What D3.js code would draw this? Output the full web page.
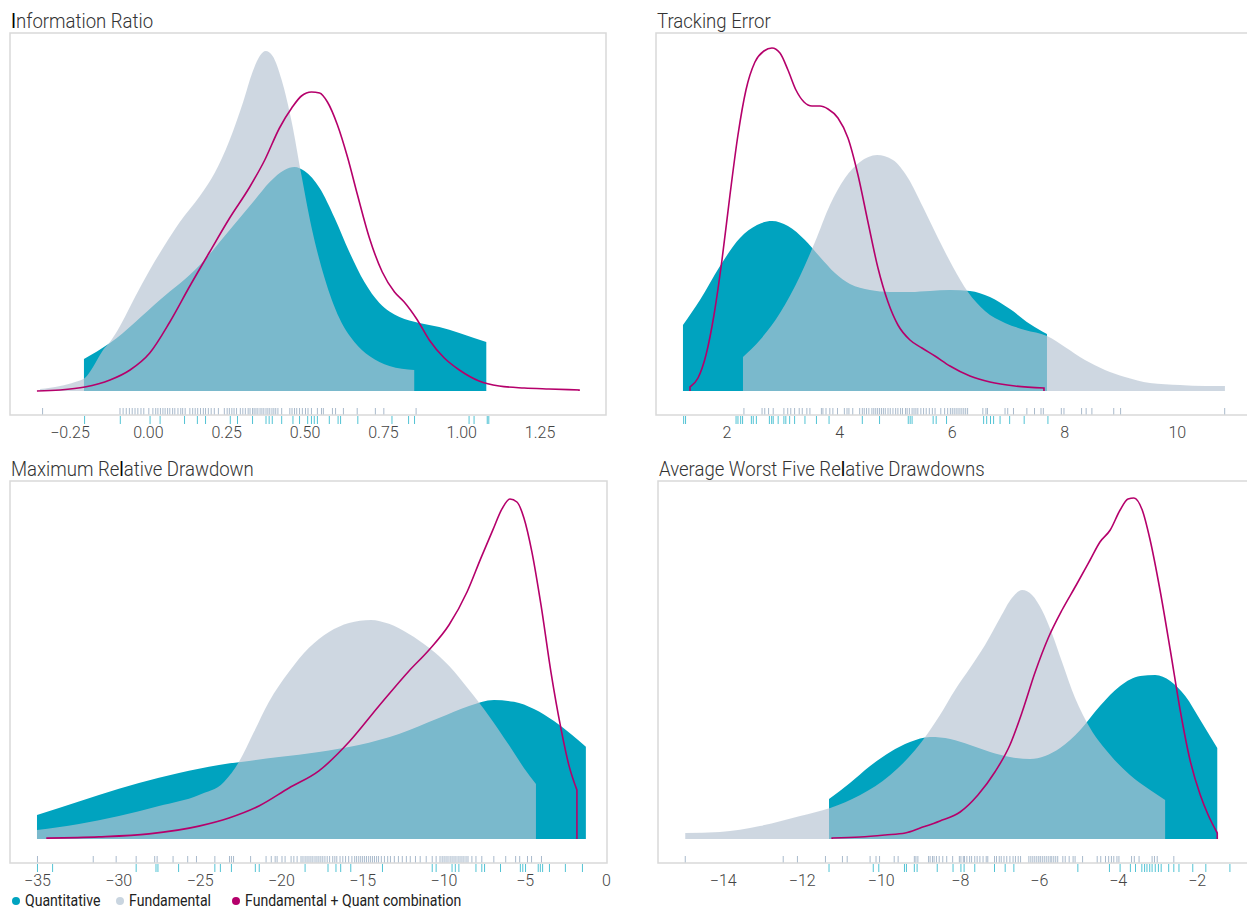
<!DOCTYPE html>
<html>
<head>
<meta charset="utf-8">
<script src="https://cdn.jsdelivr.net/npm/d3@7"></script>
<style>
  body { margin: 0; background: #fff; }
  text { font-family: Roboto, "Noto Sans", sans-serif; }
</style>
</head>
<body>
<svg id="chart" width="1247" height="909"></svg>
<script>
// ---- Information Ratio: [value, density] ----
const irQuant = [[-0.204,0.32],[-0.121,0.48],[0.038,0.91],[0.166,1.26],[0.261,1.61],[0.341,1.91],[0.389,2.09],[0.436,2.21],[0.468,2.24],[0.500,2.20],[0.548,2.03],[0.596,1.73],[0.643,1.39],[0.691,1.09],[0.739,0.88],[0.803,0.74],[0.866,0.68],[0.930,0.64],[0.994,0.58],[1.041,0.53],[1.080,0.49]];
const irFund = [[-0.344,0.02],[-0.280,0.05],[-0.232,0.09],[-0.201,0.13],[-0.175,0.24],[-0.143,0.41],[-0.121,0.49],[-0.096,0.61],[-0.067,0.78],[-0.041,0.94],[0.006,1.21],[0.054,1.46],[0.102,1.69],[0.166,1.95],[0.213,2.18],[0.261,2.51],[0.303,2.88],[0.334,3.19],[0.357,3.35],[0.376,3.40],[0.398,3.35],[0.427,3.11],[0.459,2.69],[0.490,2.16],[0.522,1.64],[0.564,1.13],[0.611,0.73],[0.659,0.49],[0.707,0.35],[0.771,0.25],[0.850,0.21]];
const irCombo = [[-0.354,0.00],[-0.280,0.01],[-0.201,0.04],[-0.121,0.11],[-0.057,0.21],[0.006,0.38],[0.070,0.69],[0.134,1.05],[0.197,1.39],[0.261,1.73],[0.325,2.04],[0.373,2.31],[0.420,2.63],[0.459,2.83],[0.490,2.95],[0.522,2.99],[0.548,2.98],[0.573,2.89],[0.605,2.66],[0.637,2.34],[0.669,1.96],[0.707,1.53],[0.748,1.19],[0.787,0.99],[0.818,0.89],[0.860,0.71],[0.898,0.51],[0.946,0.33],[0.994,0.21],[1.057,0.10],[1.121,0.05],[1.201,0.03],[1.280,0.02],[1.376,0.01]];
const irQuantRug = [-0.202,-0.088,0.007,0.039,0.117,0.158,0.184,0.263,0.286,0.334,0.377,0.387,0.397,0.427,0.463,0.484,0.510,0.522,0.531,0.541,0.579,0.607,0.615,0.670,0.779,0.832,0.851,1.025,1.041,1.083,1.088];
const irFundRug = [-0.336,-0.089,-0.079,-0.069,-0.059,-0.050,-0.041,-0.032,-0.022,-0.013,0.003,0.016,0.025,0.032,0.040,0.048,0.055,0.063,0.070,0.079,0.086,0.096,0.105,0.111,0.119,0.134,0.143,0.151,0.159,0.168,0.177,0.184,0.193,0.202,0.212,0.225,0.244,0.253,0.260,0.268,0.275,0.283,0.295,0.303,0.311,0.320,0.326,0.334,0.339,0.345,0.351,0.358,0.364,0.370,0.377,0.383,0.389,0.396,0.402,0.408,0.415,0.427,0.453,0.460,0.468,0.475,0.484,0.493,0.503,0.511,0.522,0.541,0.554,0.560,0.589,0.599,0.624,0.668,0.726,0.753,0.856];
const irTicks = [-0.25, 0, 0.25, 0.5, 0.75, 1, 1.25];

// ---- Tracking Error ----
const teQuant = [[1.227,0.066],[1.529,0.091],[1.885,0.125],[2.240,0.153],[2.542,0.166],[2.808,0.170],[3.092,0.165],[3.394,0.151],[3.661,0.134],[3.927,0.118],[4.194,0.107],[4.549,0.101],[4.904,0.099],[5.259,0.099],[5.615,0.100],[5.970,0.101],[6.325,0.100],[6.680,0.094],[7.036,0.082],[7.391,0.067],[7.693,0.057]];
const teFund = [[2.293,0.034],[2.595,0.051],[2.950,0.078],[3.306,0.115],[3.572,0.149],[3.838,0.186],[4.105,0.213],[4.371,0.229],[4.673,0.236],[4.957,0.231],[5.224,0.213],[5.490,0.184],[5.757,0.153],[6.023,0.124],[6.290,0.099],[6.592,0.080],[6.947,0.068],[7.302,0.061],[7.693,0.055],[8.012,0.044],[8.368,0.031],[8.723,0.021],[9.078,0.014],[9.522,0.008],[10.055,0.006],[10.499,0.005],[10.854,0.005]];
const teCombo = [[1.352,0.004],[1.494,0.013],[1.636,0.036],[1.778,0.076],[1.920,0.131],[2.062,0.196],[2.204,0.256],[2.346,0.301],[2.506,0.329],[2.666,0.340],[2.808,0.343],[2.950,0.338],[3.092,0.321],[3.234,0.301],[3.377,0.289],[3.519,0.285],[3.661,0.285],[3.803,0.282],[3.980,0.273],[4.158,0.253],[4.336,0.216],[4.513,0.169],[4.691,0.123],[4.869,0.089],[5.046,0.066],[5.259,0.051],[5.472,0.043],[5.703,0.035],[5.970,0.025],[6.325,0.015],[6.680,0.009],[7.124,0.005],[7.640,0.003]];
const teQuantRug = [1.239,1.273,2.170,2.204,2.252,2.286,2.442,2.476,2.531,2.762,2.803,2.830,2.918,3.020,3.054,3.122,3.210,3.394,3.598,3.822,4.413,4.719,5.229,5.263,5.297,5.671,5.725,5.909,6.568,6.622,6.690,6.745,6.860,7.030,7.288,7.710];
const teFundRug = [2.31,2.632,2.68,2.748,2.83,3.02,3.088,3.142,3.21,3.292,3.346,3.428,3.482,3.686,3.713,3.768,3.836,3.89,3.972,4.094,4.141,4.175,4.243,4.366,4.413,4.447,4.488,4.529,4.583,4.617,4.651,4.685,4.719,4.753,4.787,4.821,4.869,4.909,4.957,5.005,5.045,5.093,5.127,5.181,5.209,5.249,5.297,5.331,5.365,5.399,5.453,5.501,5.548,5.603,5.657,5.705,5.807,5.875,5.929,5.977,6.011,6.045,6.079,6.113,6.147,6.181,6.215,6.249,6.283,6.554,6.609,6.636,6.948,6.996,7.098,7.336,7.472,7.587,7.628,7.948,7.995,8.308,8.389,8.491,8.879,9.001,10.85];
const teTicks = [2, 4, 6, 8, 10];

// ---- Maximum Relative Drawdown ----
const mdQuant = [[-35.00,0.0080],[-33.65,0.0103],[-31.19,0.0147],[-28.73,0.0187],[-26.27,0.0220],[-23.81,0.0247],[-21.96,0.0260],[-20.12,0.0273],[-17.66,0.0290],[-15.20,0.0313],[-12.74,0.0350],[-10.28,0.0403],[-8.43,0.0443],[-6.89,0.0463],[-5.66,0.0457],[-4.43,0.0433],[-3.20,0.0393],[-2.16,0.0350],[-1.24,0.0307]];
const mdFund = [[-35.00,0.0030],[-32.42,0.0050],[-29.96,0.0077],[-27.50,0.0110],[-25.04,0.0147],[-23.50,0.0190],[-22.58,0.0257],[-21.65,0.0357],[-20.73,0.0457],[-19.50,0.0557],[-18.27,0.0637],[-17.04,0.0690],[-15.81,0.0720],[-14.46,0.0730],[-13.35,0.0717],[-12.12,0.0683],[-10.89,0.0637],[-9.66,0.0577],[-8.43,0.0497],[-7.20,0.0410],[-5.97,0.0313],[-5.05,0.0237],[-4.31,0.0183]];
const mdCombo = [[-34.38,0.0003],[-31.19,0.0007],[-28.11,0.0017],[-25.04,0.0043],[-23.19,0.0070],[-21.35,0.0110],[-19.50,0.0170],[-17.66,0.0227],[-15.81,0.0323],[-13.97,0.0443],[-12.12,0.0560],[-10.89,0.0630],[-9.66,0.0713],[-8.55,0.0823],[-7.69,0.0937],[-6.96,0.1030],[-6.40,0.1100],[-5.91,0.1133],[-5.48,0.1123],[-5.05,0.1070],[-4.56,0.0957],[-4.00,0.0780],[-3.39,0.0557],[-2.78,0.0370],[-2.29,0.0247],[-1.79,0.0163]];
const mdQuantRug = [-34.97,-34.04,-28.90,-27.68,-27.56,-26.29,-24.06,-23.72,-23.04,-21.57,-21.33,-18.51,-17.10,-16.61,-16.32,-15.70,-13.75,-10.69,-10.45,-9.47,-9.27,-9.05,-8.00,-7.64,-7.47,-6.49,-5.27,-5.12,-4.95,-4.17,-4.04,-3.90,-3.48,-2.50,-1.45];
const mdFundRug = [-34.97,-31.54,-30.13,-28.90,-27.76,-27.61,-26.63,-25.73,-25.19,-24.06,-23.16,-23.04,-22.91,-21.86,-20.91,-20.59,-20.35,-20.23,-19.93,-19.74,-19.37,-19.20,-19.00,-18.76,-18.64,-18.51,-18.39,-18.27,-18.15,-18.03,-17.90,-17.78,-17.66,-17.54,-17.42,-17.29,-17.15,-17.00,-16.81,-16.68,-16.56,-16.36,-16.19,-16.02,-15.83,-15.63,-15.46,-15.34,-15.21,-15.09,-14.97,-14.85,-14.73,-14.60,-14.48,-14.36,-14.24,-14.11,-13.99,-13.82,-13.63,-13.43,-13.26,-13.02,-12.77,-12.53,-12.28,-12.04,-11.72,-11.43,-11.06,-10.69,-10.45,-10.21,-10.08,-9.96,-9.84,-9.72,-9.59,-9.47,-9.35,-9.23,-9.10,-8.98,-8.86,-8.74,-8.61,-8.49,-8.25,-8.00,-7.64,-6.90,-6.17,-5.56,-5.31,-4.83,-4.58,-3.97];
const mdTicks = [-35, -30, -25, -20, -15, -10, -5, 0];

// ---- Average Worst Five Relative Drawdowns ----
const awQuant = [[-11.31,0.040],[-10.78,0.056],[-10.27,0.073],[-9.76,0.087],[-9.26,0.097],[-8.75,0.102],[-8.24,0.100],[-7.74,0.094],[-7.23,0.087],[-6.73,0.082],[-6.22,0.080],[-5.84,0.083],[-5.46,0.091],[-4.95,0.109],[-4.45,0.133],[-3.94,0.153],[-3.43,0.163],[-3.05,0.164],[-2.67,0.158],[-2.29,0.143],[-1.91,0.119],[-1.48,0.091]];
const awFund = [[-14.95,0.006],[-14.07,0.007],[-13.06,0.013],[-12.04,0.023],[-11.28,0.031],[-10.52,0.044],[-9.76,0.064],[-9.13,0.089],[-8.50,0.124],[-8.12,0.149],[-7.74,0.171],[-7.36,0.194],[-6.98,0.221],[-6.68,0.241],[-6.42,0.249],[-6.17,0.244],[-5.92,0.229],[-5.66,0.205],[-5.41,0.177],[-5.08,0.141],[-4.70,0.111],[-4.19,0.084],[-3.69,0.064],[-3.18,0.049],[-2.80,0.039]];
const awCombo = [[-11.23,0.001],[-10.52,0.002],[-9.89,0.004],[-9.38,0.006],[-9.00,0.011],[-8.50,0.018],[-7.99,0.027],[-7.54,0.044],[-7.11,0.067],[-6.73,0.094],[-6.42,0.127],[-6.09,0.167],[-5.76,0.201],[-5.41,0.229],[-5.05,0.254],[-4.70,0.279],[-4.45,0.297],[-4.19,0.309],[-3.94,0.329],[-3.74,0.340],[-3.59,0.341],[-3.38,0.329],[-3.18,0.299],[-2.93,0.249],[-2.67,0.189],[-2.42,0.129],[-2.17,0.079],[-1.91,0.044],[-1.71,0.024],[-1.48,0.006]];
const awQuantRug = [-11.31,-10.19,-10.05,-9.40,-9.35,-9.15,-9.08,-8.57,-8.17,-7.97,-7.89,-7.62,-7.12,-6.85,-6.63,-5.01,-4.21,-3.94,-3.68,-3.55,-3.39,-3.32,-3.26,-3.19,-3.13,-3.05,-2.97,-2.90,-2.71,-2.58,-2.45,-2.10,-1.77,-1.16];
const awFundRug = [-14.95,-12.47,-12.11,-11.40,-10.97,-10.85,-10.27,-10.12,-10.03,-9.66,-9.56,-9.15,-9.11,-9.06,-8.79,-8.75,-8.69,-8.65,-8.59,-8.52,-8.43,-8.33,-8.18,-8.01,-7.97,-7.91,-7.88,-7.82,-7.75,-7.70,-7.62,-7.56,-7.49,-7.41,-7.33,-7.29,-7.12,-7.07,-7.00,-6.95,-6.88,-6.81,-6.73,-6.65,-6.59,-6.52,-6.46,-6.25,-6.20,-6.15,-6.10,-6.05,-6.00,-5.96,-5.91,-5.86,-5.81,-5.76,-5.71,-5.67,-5.62,-5.57,-5.52,-5.39,-5.33,-5.23,-5.13,-5.08,-4.89,-4.52,-4.43,-4.31,-4.23,-4.16,-4.10,-4.02,-3.97,-3.65,-3.58,-3.46,-3.13,-3.07,-3.00,-2.58];
const awTicks = [-14, -12, -10, -8, -6, -4, -2];

// ---- Legend ----
const seriesNames = ["Quantitative", "Fundamental", "Fundamental + Quant combination"];

const COLOR_QUANT = "#00a3bf";
const COLOR_FUND = "#b6c4d3";
const COLOR_COMBO = "#b5006b";
const COLOR_QUANT_RUG = "#52c3d4";
const COLOR_FUND_RUG = "#a9bacc";
const TITLE_CONDENSE = 0.885;
const LEGEND_CONDENSE = 0.88;

const svg = d3.select("#chart");

const panels = [
  { id: "ir", title: "Information Ratio", box: [10, 33, 606, 415], domain: [-0.44, 1.462], dmax: 3.58,
    ticks: irTicks, fmt: d3.format(".2f"), quant: irQuant, fund: irFund, combo: irCombo, quantRug: irQuantRug, fundRug: irFundRug },
  { id: "te", title: "Tracking Error", box: [656, 33, 1252, 415], domain: [0.748, 11.335], dmax: 0.358,
    ticks: teTicks, fmt: d3.format("d"), quant: teQuant, fund: teFund, combo: teCombo, quantRug: teQuantRug, fundRug: teFundRug },
  { id: "md", title: "Maximum Relative Drawdown", box: [10, 481, 607, 863], domain: [-36.66, 0.06], dmax: 0.1193,
    ticks: mdTicks, fmt: d3.format("d"), quant: mdQuant, fund: mdFund, combo: mdCombo, quantRug: mdQuantRug, fundRug: mdFundRug },
  { id: "aw", title: "Average Worst Five Relative Drawdowns", box: [658, 481, 1254, 863], domain: [-15.64, -0.55], dmax: 0.358,
    ticks: awTicks, fmt: d3.format("d"), quant: awQuant, fund: awFund, combo: awCombo, quantRug: awQuantRug, fundRug: awFundRug }
];

// Title with the dark "I"/"l" glyphs of the original typeface
function writeTitle(g, str) {
  const t = g.append("text")
    .attr("transform", `scale(${TITLE_CONDENSE},1)`)
    .attr("font-size", 21).attr("font-weight", 300).attr("fill", "#333");
  str.split(/([Il])/).forEach(part => {
    if (!part) return;
    const s = t.append("tspan").text(part);
    if (part === "I" || part === "l") s.attr("fill", "#000").attr("font-weight", 400);
  });
}

panels.forEach(p => {
  const [bx0, by0, bx1, by1] = p.box;
  const base = by1 - 24;
  const x = d3.scaleLinear().domain(p.domain).range([bx0, bx1]);
  const y = d3.scaleLinear().domain([0, p.dmax]).range([base, by0]);

  const g = svg.append("g");

  // title
  writeTitle(g.append("g").attr("transform", `translate(${bx0 + 1},${by0 - 5})`), p.title);

  // clip
  g.append("clipPath").attr("id", "clip-" + p.id)
    .append("rect").attr("x", bx0).attr("y", by0).attr("width", bx1 - bx0).attr("height", by1 - by0);
  const plot = g.append("g").attr("clip-path", `url(#clip-${p.id})`);

  const area = d3.area().curve(d3.curveMonotoneX)
    .x(d => x(d[0])).y0(base).y1(d => y(d[1]));
  const line = d3.line().curve(d3.curveMonotoneX)
    .x(d => x(d[0])).y(d => y(d[1]));

  plot.append("path").datum(p.quant).attr("d", area).attr("fill", COLOR_QUANT);
  plot.append("path").datum(p.fund).attr("d", area).attr("fill", COLOR_FUND).attr("fill-opacity", 0.67);

  // combination line, closed down to the baseline at both ends
  const first = p.combo[0], last = p.combo[p.combo.length - 1];
  const comboPath = line(p.combo);
  plot.append("path")
    .attr("d", `M${x(first[0])},${base}L` + comboPath.slice(1) + `L${x(last[0])},${base}`)
    .attr("fill", "none").attr("stroke", COLOR_COMBO).attr("stroke-width", 1.6);

  // rug: fundamental inside the frame, quantitative below the axis line
  plot.append("g").selectAll("line").data(p.fundRug).join("line")
    .attr("x1", d => x(d)).attr("x2", d => x(d))
    .attr("y1", by1 - 7).attr("y2", by1)
    .attr("stroke", COLOR_FUND_RUG).attr("stroke-width", 1);
  g.append("g").selectAll("line").data(p.quantRug).join("line")
    .attr("x1", d => x(d)).attr("x2", d => x(d))
    .attr("y1", by1 + 1).attr("y2", by1 + 9)
    .attr("stroke", COLOR_QUANT_RUG).attr("stroke-width", 1);

  // frame
  g.append("rect").attr("x", bx0).attr("y", by0).attr("width", bx1 - bx0).attr("height", by1 - by0)
    .attr("fill", "none").attr("stroke", "#d9d9d9").attr("stroke-width", 1.5);

  // axis
  const ax = g.append("g").attr("transform", `translate(0,${by1})`)
    .call(d3.axisBottom(x).tickValues(p.ticks).tickFormat(p.fmt).tickSize(0).tickPadding(12));
  ax.select(".domain").remove();
  ax.selectAll("text")
    .attr("font-family", "Roboto, sans-serif").attr("font-size", 16).attr("font-weight", 300).attr("fill", "#444");
});

// legend
const legendColors = [COLOR_QUANT, "#c9d5e0", COLOR_COMBO];
const legendX = [16, 120, 236];
const lg = svg.append("g");
seriesNames.forEach((name, i) => {
  lg.append("circle").attr("cx", legendX[i]).attr("cy", 901).attr("r", 4).attr("fill", legendColors[i]);
  lg.append("g").attr("transform", `translate(${legendX[i] + 9},906)`)
    .append("text").attr("transform", `scale(${LEGEND_CONDENSE},1)`)
    .attr("font-size", 16).attr("fill", "#222").text(name);
});
</script>
</body>
</html>
